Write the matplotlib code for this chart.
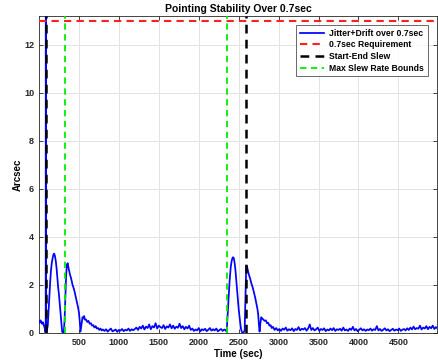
import numpy as np
import matplotlib
matplotlib.use("Agg")
import matplotlib.pyplot as plt

plt.rcParams['font.family'] = ['Liberation Sans', 'DejaVu Sans']
plt.rcParams['font.weight'] = 'bold'

# ---- data ----
event1_t = [0, 10, 20, 30, 40, 50, 60, 70, 80, 84, 87, 90, 95,
            110, 120, 130, 140, 150, 160, 170, 180, 190, 200, 210, 220, 230, 240,
            250, 260, 270, 280, 290, 300, 310, 320, 330, 340, 350, 360, 370, 380,
            390, 400, 410, 420, 430, 440, 450, 460, 470, 480, 490, 500, 510, 520,
            530, 545, 555, 565, 575, 590, 605, 620, 635, 650, 665, 680, 695, 710,
            725, 740, 755, 770, 785, 800]
event1_v = [0.48, 0.42, 0.52, 0.45, 0.38, 0.44, 0.32, 0.22, 0.02, 0.0, 60.0, 0.0, 0.02,
            0.3, 0.9, 1.5, 2.1, 2.6, 2.9, 3.1, 3.25, 3.3, 3.2, 3.0, 2.7, 2.3, 1.9,
            1.6, 1.2, 0.8, 0.4, 0.05, 0.0, 0.0, 0.5, 1.5, 2.4, 2.85, 2.9, 2.7, 2.55,
            2.4, 2.3, 2.15, 2.0, 1.9, 1.8, 1.65, 1.5, 1.35, 1.2, 1.05, 0.85, 0.5, 0.05,
            0.3, 0.65, 0.6, 0.7, 0.55, 0.55, 0.45, 0.5, 0.38, 0.4, 0.3, 0.32, 0.22, 0.28,
            0.18, 0.2, 0.12, 0.18, 0.1, 0.14]

quiet1_start, quiet1_step = 820, 20
quiet1_v = [0.08, 0.15, 0.05, 0.12, 0.18, 0.06, 0.1, 0.14, 0.04, 0.12, 0.09, 0.16, 0.07,
            0.13, 0.1, 0.18, 0.08, 0.15, 0.11,
            0.16, 0.22, 0.12, 0.25, 0.18, 0.3, 0.14, 0.26, 0.2, 0.35, 0.15, 0.28, 0.22,
            0.4, 0.18, 0.3, 0.24, 0.2, 0.32, 0.16, 0.27, 0.22, 0.35, 0.19, 0.3, 0.17,
            0.26, 0.21, 0.38, 0.2, 0.28, 0.15, 0.25, 0.18, 0.3,
            0.12, 0.18, 0.08, 0.14, 0.1, 0.2, 0.06, 0.15, 0.11, 0.17, 0.07, 0.13, 0.2,
            0.09, 0.15, 0.1, 0.18, 0.06, 0.12, 0.16, 0.08, 0.14, 0.1]

event2_t = [2350, 2360, 2370, 2380, 2390, 2400, 2410, 2420, 2430, 2440, 2450, 2460,
            2470, 2480, 2490, 2500, 2510, 2520, 2530, 2545, 2560, 2575, 2585, 2595,
            2605, 2615, 2630, 2645, 2660, 2675, 2690, 2705, 2720, 2735, 2745, 2755,
            2762, 2772, 2783, 2795, 2810, 2825, 2840, 2855, 2870, 2885, 2900, 2915, 2930]
event2_v = [0.05, 0.6, 1.2, 1.8, 2.3, 2.7, 2.95, 3.1, 3.15, 3.1, 2.9, 2.6,
            2.2, 1.8, 1.4, 1.0, 0.7, 0.4, 0.15, 0.0, 0.0, 0.1, 1.5, 2.8,
            2.75, 2.6, 2.4, 2.25, 2.05, 1.9, 1.7, 1.5, 1.25, 1.0, 0.75, 0.3,
            0.05, 0.4, 0.65, 0.6, 0.55, 0.5, 0.52, 0.4, 0.42, 0.3, 0.32, 0.2, 0.25]

quiet2_start, quiet2_step = 2950, 20
quiet2_v = [0.12, 0.2, 0.1, 0.16, 0.08, 0.18, 0.13, 0.22, 0.09, 0.15,
            0.11, 0.19, 0.07, 0.16, 0.12, 0.24, 0.1, 0.17, 0.14, 0.2,
            0.09, 0.18, 0.35, 0.12, 0.2, 0.1, 0.15, 0.22, 0.08, 0.16,
            0.12, 0.19, 0.07, 0.14, 0.1, 0.18, 0.11, 0.2, 0.08, 0.15,
            0.12, 0.17, 0.09, 0.22, 0.1, 0.14, 0.08, 0.18, 0.12, 0.25,
            0.1, 0.16, 0.07, 0.13, 0.19, 0.1, 0.15, 0.08, 0.14, 0.11,
            0.18, 0.09, 0.15, 0.12, 0.28, 0.1, 0.16, 0.08, 0.13, 0.19,
            0.1, 0.15, 0.07, 0.12, 0.17, 0.09, 0.14, 0.11, 0.18, 0.08,
            0.13, 0.16, 0.1, 0.19, 0.12, 0.22, 0.14, 0.26, 0.15, 0.2,
            0.17, 0.3, 0.14, 0.22, 0.18, 0.28, 0.15, 0.25, 0.19, 0.3,
            0.16, 0.24, 0.18]

requirement = 13.0
slew_times = [88, 2590]
max_rate_bounds = [325, 2360]
x_ticks = [500, 1000, 1500, 2000, 2500, 3000, 3500, 4000, 4500]
y_ticks = [0, 2, 4, 6, 8, 10, 12]

# ---- assemble series ----
q1_t = quiet1_start + quiet1_step * np.arange(len(quiet1_v))
q2_t = quiet2_start + quiet2_step * np.arange(len(quiet2_v))
t = np.concatenate([event1_t, q1_t, event2_t, q2_t])
v = np.concatenate([event1_v, quiet1_v, event2_v, quiet2_v])

fig = plt.figure(figsize=(4.38, 3.61), dpi=100)
ax = fig.add_axes([0.089, 0.078, 0.909, 0.878])

ax.plot(t, v, color='#0000FF', lw=1.25, label='Jitter+Drift over 0.7sec', zorder=3)
ax.axhline(requirement, color='#FF2020', lw=1.5, ls=(0, (3.5, 2.5)),
           label='0.7sec Requirement', zorder=4)
for i, s in enumerate(slew_times):
    ax.axvline(s, color='black', lw=1.8, ls=(0, (3.5, 2.5)),
               label='Start-End Slew' if i == 0 else None, zorder=4)
for i, b in enumerate(max_rate_bounds):
    ax.axvline(b, color='#00EE00', lw=1.3, ls=(0, (3.5, 2.5)),
               label='Max Slew Rate Bounds' if i == 0 else None, zorder=4)

ax.set_xlim(0, 4985)
ax.set_ylim(0, 13.2)
ax.set_xticks(x_ticks)
ax.set_yticks(y_ticks)
ax.grid(True, color='#E3E3E3', lw=0.7)
ax.set_axisbelow(True)
ax.tick_params(direction='in', length=3, width=0.6, labelsize=6.5,
               colors='#262626', top=True, right=True)
for sp in ax.spines.values():
    sp.set_color('#262626')
    sp.set_linewidth(0.6)

ax.set_title('Pointing Stability Over 0.7sec', fontsize=7.5, fontweight='bold', pad=3)
ax.set_xlabel('Time (sec)', fontsize=7, fontweight='bold', labelpad=2)
ax.set_ylabel('Arcsec', fontsize=7, fontweight='bold', labelpad=1)

leg = ax.legend(loc='upper right', bbox_to_anchor=(0.987, 0.985), fontsize=6.2,
                frameon=True, fancybox=False, edgecolor='#262626',
                handlelength=2.8, borderpad=0.45, labelspacing=0.3,
                handletextpad=0.6)
leg.get_frame().set_linewidth(0.6)
for txt in leg.get_texts():
    txt.set_fontweight('bold')

fig.savefig('out.png', dpi=100)
